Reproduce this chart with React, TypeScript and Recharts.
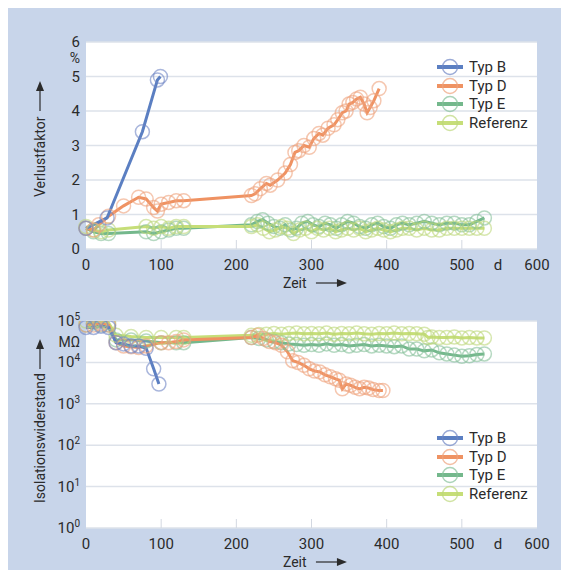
import { CartesianGrid, Legend, Line, LineChart, XAxis, YAxis } from "recharts";

// Verlustfaktor (%) over Zeit (d)
const typBLossDays = [0, 28, 75, 95, 99];
const typBLoss = [0.6, 0.9, 3.4, 4.9, 5.0];

const typDLossDays = [0, 10, 17, 30, 50, 70, 80, 90, 95, 100, 110, 120, 130, 220, 225, 232, 240, 245, 255, 265, 272, 278, 283, 290, 297, 303, 310, 315, 322, 330, 335, 341, 346, 350, 355, 360, 365, 370, 374, 378, 383, 390];
const typDLoss = [0.6, 0.55, 0.7, 0.95, 1.25, 1.5, 1.45, 1.2, 1.1, 1.3, 1.35, 1.4, 1.4, 1.55, 1.6, 1.75, 1.9, 1.85, 2.0, 2.2, 2.45, 2.8, 2.85, 3.0, 2.95, 3.2, 3.35, 3.3, 3.5, 3.6, 3.75, 3.95, 4.0, 4.2, 4.25, 4.35, 4.4, 4.2, 3.95, 4.1, 4.3, 4.65];

const typELossDays = [0, 10, 20, 30, 80, 90, 100, 110, 120, 130, 220, 228, 235, 242, 250, 258, 265, 272, 280, 287, 295, 302, 310, 318, 325, 333, 340, 348, 356, 364, 372, 380, 388, 396, 405, 413, 421, 430, 440, 450, 460, 470, 480, 490, 500, 510, 520, 530];
const typELoss = [0.6, 0.5, 0.45, 0.45, 0.5, 0.45, 0.5, 0.55, 0.6, 0.6, 0.7, 0.8, 0.85, 0.75, 0.65, 0.6, 0.7, 0.55, 0.6, 0.75, 0.8, 0.7, 0.65, 0.75, 0.7, 0.6, 0.7, 0.8, 0.75, 0.65, 0.6, 0.7, 0.75, 0.65, 0.6, 0.7, 0.75, 0.7, 0.75, 0.8, 0.75, 0.7, 0.75, 0.75, 0.7, 0.7, 0.8, 0.9];

const refLossDays = [0, 10, 20, 30, 80, 90, 100, 110, 120, 130, 220, 228, 236, 244, 252, 260, 268, 276, 284, 292, 300, 308, 316, 324, 332, 340, 348, 356, 364, 372, 380, 388, 396, 405, 413, 421, 430, 440, 450, 460, 470, 480, 490, 500, 510, 520, 530];
const refLoss = [0.65, 0.55, 0.5, 0.55, 0.65, 0.6, 0.65, 0.6, 0.65, 0.65, 0.65, 0.7, 0.6, 0.5, 0.55, 0.65, 0.6, 0.45, 0.55, 0.6, 0.5, 0.6, 0.55, 0.6, 0.5, 0.55, 0.6, 0.55, 0.6, 0.5, 0.55, 0.6, 0.55, 0.5, 0.55, 0.6, 0.6, 0.55, 0.6, 0.55, 0.55, 0.6, 0.6, 0.6, 0.6, 0.6, 0.6];

// Isolationswiderstand (MOhm) over Zeit (d)
const typBResDays = [0, 10, 20, 30, 40, 50, 60, 70, 80, 90, 97];
const typBRes = [70000, 70000, 75000, 70000, 30000, 28000, 25000, 25000, 22000, 7000, 3000];

const typDResDays = [0, 10, 20, 30, 40, 50, 60, 70, 80, 100, 110, 120, 130, 220, 228, 236, 244, 252, 260, 268, 275, 282, 290, 297, 304, 311, 318, 325, 332, 337, 341, 346, 352, 358, 364, 370, 376, 382, 390, 395];
const typDRes = [80000, 80000, 85000, 80000, 30000, 25000, 24000, 23000, 25000, 30000, 30000, 32000, 35000, 40000, 45000, 38000, 32000, 30000, 26000, 18000, 11000, 10000, 8500, 7000, 6200, 5900, 5000, 4500, 4000, 3700, 2300, 3000, 2800, 2500, 2300, 2500, 2400, 2200, 2100, 2100];

const typEResDays = [0, 10, 20, 30, 40, 60, 80, 100, 120, 130, 220, 230, 240, 250, 260, 270, 280, 290, 300, 310, 320, 330, 340, 350, 360, 370, 380, 390, 400, 410, 420, 430, 440, 450, 460, 470, 480, 490, 500, 510, 520, 530];
const typERes = [80000, 90000, 80000, 80000, 35000, 35000, 33000, 30000, 30000, 30000, 40000, 38000, 35000, 32000, 30000, 28000, 27000, 26000, 27000, 26000, 28000, 26000, 27000, 25000, 26000, 27000, 25000, 26000, 25000, 24000, 25000, 21000, 21000, 19000, 20000, 17000, 16000, 15000, 14000, 14500, 15500, 16000];

const refResDays = [0, 10, 20, 30, 40, 60, 80, 100, 120, 130, 220, 230, 240, 250, 260, 270, 280, 290, 300, 310, 320, 330, 340, 350, 360, 370, 380, 390, 400, 410, 420, 430, 440, 450, 455, 460, 470, 480, 490, 500, 510, 520, 530];
const refRes = [100000, 100000, 100000, 90000, 45000, 42000, 40000, 40000, 40000, 40000, 45000, 47000, 48000, 50000, 48000, 50000, 51000, 49000, 50000, 49000, 51000, 48000, 50000, 49000, 51000, 49000, 48000, 50000, 49000, 51000, 49000, 50000, 49000, 48000, 40000, 41000, 40000, 40000, 41000, 39000, 40000, 39000, 39000];

const xTicks = [0, 100, 200, 300, 400, 500, 600];
const lossTicks = [0, 1, 2, 3, 4, 5, 6];
const resTicks = [1, 10, 100, 1000, 10000, 100000];

const SERIES = [
  { key: "typB", name: "Typ B", color: "#5b7fc2", dot: "#6f86c4" },
  { key: "typD", name: "Typ D", color: "#ef9262", dot: "#eea27c" },
  { key: "typE", name: "Typ E", color: "#74b88c", dot: "#86c09a" },
  { key: "ref", name: "Referenz", color: "#c6de78", dot: "#bcd77a" },
];

const FONT = "Roboto, 'Liberation Sans', sans-serif";
const TEXT = "#2b2b2b";
const GRID = "#dde2ea";

const zip = (xs: number[], ys: number[]) => xs.map((d, i) => ({ d, v: ys[i] }));

const lossData: Record<string, { d: number; v: number }[]> = {
  typB: zip(typBLossDays, typBLoss),
  typD: zip(typDLossDays, typDLoss),
  typE: zip(typELossDays, typELoss),
  ref: zip(refLossDays, refLoss),
};
const resData: Record<string, { d: number; v: number }[]> = {
  typB: zip(typBResDays, typBRes),
  typD: zip(typDResDays, typDRes),
  typE: zip(typEResDays, typERes),
  ref: zip(refResDays, refRes),
};

const DRAW_ORDER = ["typE", "ref", "typD", "typB"];

function LegendBox() {
  return (
    <div style={{ fontFamily: FONT, fontSize: 15, color: TEXT }}>
      {SERIES.map((s) => (
        <div key={s.key} style={{ display: "flex", alignItems: "center", height: 18.5 }}>
          <svg width={28} height={18} style={{ overflow: "visible" }}>
            <line x1={0} x2={26} y1={9} y2={9} stroke={s.color} strokeWidth={4} />
            <circle cx={13} cy={9} r={7.5} fill="none" stroke={s.dot} strokeOpacity={0.7} strokeWidth={1.5} />
          </svg>
          <span style={{ marginLeft: 4, lineHeight: "18px" }}>{s.name}</span>
        </div>
      ))}
    </div>
  );
}

function XTick(props: any) {
  const { x, y, payload } = props;
  const v = payload.value;
  return (
    <g>
      {v > 0 && v < 600 && <line x1={x} x2={x} y1={y - 9} y2={y} stroke="#d3d8e1" strokeWidth={1} />}
      <text x={x} y={y + 21} textAnchor="middle" fontSize={15} fill={TEXT} fontFamily={FONT}>
        {v}
      </text>
    </g>
  );
}

function XLabel(props: any) {
  const { viewBox } = props;
  const { x, y, width } = viewBox;
  const dx = x + (width * 548) / 600;
  const zx = x + (width * 262) / 600;
  return (
    <g fontFamily={FONT} fill={TEXT}>
      <text x={dx} y={y + 21} textAnchor="middle" fontSize={15}>
        d
      </text>
      <text x={zx} y={y + 39} fontSize={14}>
        Zeit
      </text>
      <line x1={zx + 33} x2={zx + 56} y1={y + 34} y2={y + 34} stroke={TEXT} strokeWidth={1.2} />
      <polygon points={`${zx + 64},${y + 34} ${zx + 54},${y + 30} ${zx + 54},${y + 38}`} fill={TEXT} />
    </g>
  );
}

function LossTick(props: any) {
  const { x, y, payload } = props;
  return (
    <g fontFamily={FONT} fill={TEXT} fontSize={15}>
      <text x={x} y={y + 5} textAnchor="end">
        {payload.value}
      </text>
      {payload.value === 6 && (
        <text x={x} y={y + 21} textAnchor="end" fontSize={14}>
          %
        </text>
      )}
    </g>
  );
}

function ResTick(props: any) {
  const { x, y, payload } = props;
  const exp = Math.round(Math.log10(payload.value));
  return (
    <g fontFamily={FONT} fill={TEXT}>
      <text x={x} y={y + 5} textAnchor="end" fontSize={15}>
        10
        <tspan dy={-6} fontSize={10}>
          {exp}
        </tspan>
      </text>
      {exp === 5 && (
        <text x={x} y={y + 26} textAnchor="end" fontSize={14}>
          MΩ
        </text>
      )}
    </g>
  );
}

function YTitle({ text, cx, bottom, len }: { text: string; cx: number; bottom: number; len: number }) {
  return (
    <g transform={`translate(${cx},${bottom}) rotate(-90)`} fontFamily={FONT} fill={TEXT}>
      <text x={0} y={5} fontSize={14}>
        {text}
      </text>
      <line x1={len + 6} x2={len + 28} y1={0} y2={0} stroke={TEXT} strokeWidth={1.2} />
      <polygon points={`${len + 36},0 ${len + 26},-4 ${len + 26},4`} fill={TEXT} />
    </g>
  );
}

function renderLines(data: Record<string, { d: number; v: number }[]>) {
  return DRAW_ORDER.map((k) => {
    const s = SERIES.find((e) => e.key === k)!;
    return (
      <Line
        key={k}
        data={data[k]}
        dataKey="v"
        name={s.name}
        type="linear"
        stroke={s.color}
        strokeWidth={3}
        dot={{ r: 7, fill: "none", stroke: s.dot, strokeOpacity: 0.6, strokeWidth: 1.5 }}
        isAnimationActive={false}
      />
    );
  });
}

export default function App() {
  return (
    <div style={{ position: "fixed", left: 0, top: 0, width: 561, height: 572, background: "#fff", overflow: "hidden" }}>
      <div style={{ position: "absolute", left: 8, top: 8, width: 553, height: 562, background: "#c8d5ea" }} />
      <div style={{ position: "absolute", left: 0, top: 0 }}>
        <LineChart width={561} height={290} margin={{ top: 42, right: 24, left: 46, bottom: 0 }}>
          <CartesianGrid vertical={false} stroke={GRID} strokeWidth={1.5} fill="#ffffff" />
          <XAxis
            type="number"
            dataKey="d"
            domain={[0, 600]}
            ticks={xTicks}
            axisLine={false}
            tickLine={false}
            tickSize={0}
            tickMargin={0}
            height={41}
            tick={<XTick />}
            label={{ content: <XLabel /> }}
            allowDuplicatedCategory={false}
          />
          <YAxis
            type="number"
            domain={[0, 6]}
            ticks={lossTicks}
            axisLine={false}
            tickLine={false}
            tickSize={0}
            tickMargin={6}
            width={40}
            tick={<LossTick />}
          />
          {renderLines(lossData)}
          <Legend
            layout="horizontal"
            verticalAlign="middle"
            align="center"
            wrapperStyle={{ left: 437, top: 58, width: 110 }}
            content={() => <LegendBox />}
          />
          <YTitle text="Verlustfaktor" cx={40} bottom={197} len={80} />
        </LineChart>
      </div>
      <div style={{ position: "absolute", left: 0, top: 290 }}>
        <LineChart width={561} height={282} margin={{ top: 31, right: 24, left: 46, bottom: 0 }}>
          <CartesianGrid vertical={false} stroke={GRID} strokeWidth={1.5} fill="#ffffff" />
          <XAxis
            type="number"
            dataKey="d"
            domain={[0, 600]}
            ticks={xTicks}
            axisLine={false}
            tickLine={false}
            tickSize={0}
            tickMargin={0}
            height={44}
            tick={<XTick />}
            label={{ content: <XLabel /> }}
            allowDuplicatedCategory={false}
          />
          <YAxis
            type="number"
            scale="log"
            domain={[1, 100000]}
            ticks={resTicks}
            allowDataOverflow
            axisLine={false}
            tickLine={false}
            tickSize={0}
            tickMargin={6}
            width={40}
            tick={<ResTick />}
          />
          {renderLines(resData)}
          <Legend
            layout="horizontal"
            verticalAlign="middle"
            align="center"
            wrapperStyle={{ left: 437, top: 139, width: 110 }}
            content={() => <LegendBox />}
          />
          <YTitle text="Isolationswiderstand" cx={40} bottom={213} len={128} />
        </LineChart>
      </div>
    </div>
  );
}
